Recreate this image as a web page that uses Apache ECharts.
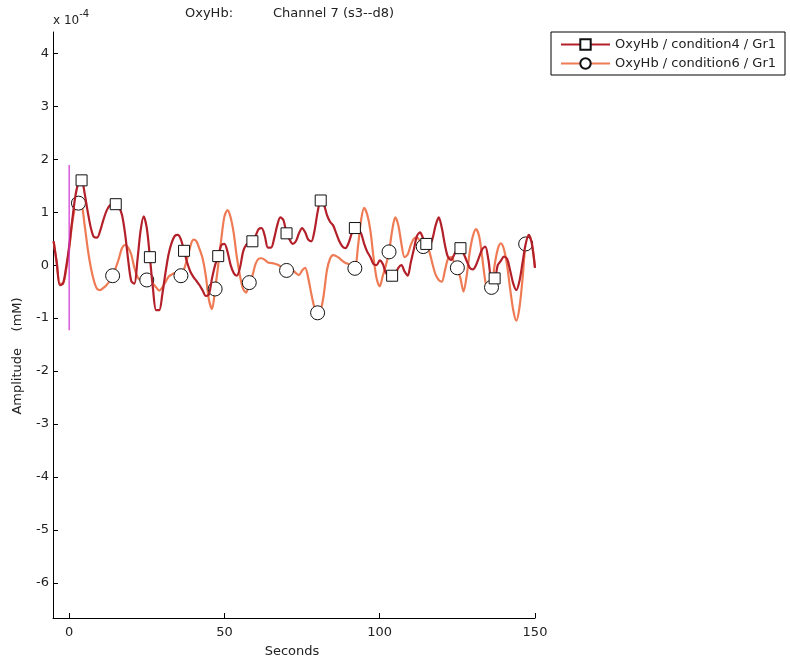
<!DOCTYPE html>
<html>
<head>
<meta charset="utf-8">
<script src="https://cdn.jsdelivr.net/npm/echarts@6/dist/echarts.min.js"></script>
<style>
  html, body { margin: 0; padding: 0; background: #fff; }
  #main { width: 790px; height: 668px; }
</style>
</head>
<body>
<div id="main"></div>
<script>
// sample times: one per second from -5 s to 150 s
var startSec = -5;

// OxyHb / condition4 / Gr1 (x 1e-4 mM)
var cond4 = [
  0.45, 0.05, -0.38, -0.35, -0.05,
  0.35, 0.85, 1.3, 1.55, 1.6, 1.35, 1.0, 0.7, 0.53, 0.52,
  0.65, 0.85, 1.02, 1.12, 1.15, 1.15, 1.1, 0.95, 0.6, 0.1,
  -0.3, -0.35, 0.1, 0.65, 0.92, 0.7, 0.15, -0.45, -0.85, -0.85,
  -0.55, -0.15, 0.2, 0.42, 0.55, 0.57, 0.48, 0.27, 0.05, -0.12,
  -0.22, -0.3, -0.38, -0.48, -0.58, -0.55, -0.25, 0.0, 0.17, 0.38,
  0.4, 0.25, 0.0, -0.15, -0.2, -0.05, 0.25, 0.38, 0.42, 0.45,
  0.55, 0.68, 0.7, 0.55, 0.33, 0.33, 0.5, 0.75, 0.9, 0.85,
  0.6, 0.48, 0.4, 0.45, 0.6, 0.7, 0.62, 0.48, 0.45, 0.65,
  1.0, 1.22, 1.15, 0.95, 0.82, 0.75, 0.6, 0.45, 0.35, 0.32,
  0.42, 0.6, 0.7, 0.68, 0.6, 0.4, 0.25, 0.15, 0.02, 0.0,
  0.09, 0.02, -0.15, -0.2, -0.2, -0.17, -0.05, 0.0, -0.12, -0.2,
  0.05, 0.3, 0.55, 0.62, 0.5, 0.4, 0.38, 0.5, 0.75, 0.9,
  0.7, 0.38, 0.15, 0.1, 0.2, 0.3, 0.32, 0.22, 0.08, -0.05,
  -0.08, 0.0, 0.15, 0.3, 0.35, 0.1, -0.25, -0.25, 0.0, 0.08,
  0.16, 0.12, -0.1, -0.35, -0.47, -0.3, 0.05, 0.4, 0.57, 0.4,
  -0.05
];

// OxyHb / condition6 / Gr1 (x 1e-4 mM)
var cond6 = [
  0.45, 0.05, -0.35, -0.35, -0.1,
  0.3, 0.8, 1.1, 1.17, 1.15, 0.75, 0.3, -0.05, -0.3, -0.45,
  -0.47, -0.43, -0.38, -0.3, -0.2, -0.05, 0.12, 0.32, 0.38, 0.33,
  0.2, -0.05, -0.22, -0.28, -0.27, -0.28, -0.3, -0.35, -0.42, -0.48,
  -0.42, -0.32, -0.22, -0.18, -0.15, -0.18, -0.2, -0.08, 0.12, 0.35,
  0.48, 0.45, 0.3, 0.12, -0.2, -0.65, -0.83, -0.45, 0.0, 0.5,
  0.92, 1.04, 0.9, 0.6, 0.15, -0.2, -0.45, -0.52, -0.33, -0.2,
  0.02, 0.12, 0.13, 0.1, 0.05, 0.04, 0.03, 0.01, -0.02, -0.06,
  -0.1, -0.12, -0.1, -0.15, -0.19, -0.1, -0.05, -0.25, -0.55, -0.8,
  -0.9, -0.85, -0.55, -0.1, 0.12, 0.19, 0.17, 0.13, 0.08, 0.04,
  0.02, -0.05, -0.06, 0.35, 0.85, 1.08, 0.95, 0.65, 0.15, -0.25,
  -0.4, -0.2, 0.0, 0.25, 0.65, 0.9, 0.75, 0.4, 0.15, 0.2,
  0.38, 0.5, 0.52, 0.45, 0.35, 0.35, 0.25, 0.02, -0.18, -0.28,
  -0.31, -0.1, 0.12, 0.15, 0.05, -0.05, -0.25, -0.5, -0.2, 0.25,
  0.55, 0.68, 0.55, 0.15, -0.3, -0.5, -0.42, 0.0, 0.3, 0.41,
  0.3, 0.0, -0.45, -0.85, -1.05, -0.8, -0.25, 0.4, 0.55, 0.4,
  -0.05
];

// seconds at which the markers sit
var marks4 = [4, 15, 26, 37, 48, 59, 70, 81, 92, 104, 115, 126, 137];
var marks6 = [3, 14, 25, 36, 47, 58, 70, 80, 92, 103, 114, 125, 136, 147];

// stimulus onset line
var onsetSec = 0;
var onsetRange = [-1.23, 1.89];

var xTicks = [0, 50, 100, 150];
var yTicks = [-6, -5, -4, -3, -2, -1, 0, 1, 2, 3, 4];

var font = '"DejaVu Sans", Verdana, sans-serif';
var ink = '#222';

function buildData(vals, marks, sym, size) {
  return vals.map(function (v, i) {
    var t = startSec + i;
    if (marks.indexOf(t) >= 0) {
      return { value: [t, v], symbol: sym, symbolSize: size };
    }
    return { value: [t, v], symbol: 'none' };
  });
}

var myChart = echarts.init(document.getElementById('main'));
myChart.setOption({
  animation: false,
  backgroundColor: '#fff',
  textStyle: { fontFamily: font },
  grid: { left: 53, top: 32, width: 482, height: 586 },
  graphic: [
    { type: 'text', left: 185, top: 7,
      style: { text: 'OxyHb:', font: '13px ' + font, fill: ink } },
    { type: 'text', left: 273, top: 7,
      style: { text: 'Channel 7 (s3--d8)', font: '13px ' + font, fill: ink } },
    { type: 'text', left: 53, top: 9,
      style: { text: '{b|x 10}{s|-4}', fill: ink,
        rich: { b: { fontSize: 12, fontFamily: font, verticalAlign: 'bottom', color: ink },
                s: { fontSize: 10, fontFamily: font, verticalAlign: 'top', color: ink, padding: [0, 0, 8, 0] } } } },
    { type: 'text', x: 18, y: 356, rotation: Math.PI / 2,
      style: { text: 'Amplitude    (mM)', font: '13px ' + font, fill: ink,
        align: 'center', verticalAlign: 'middle' } },
    { type: 'text', x: 292, y: 652,
      style: { text: 'Seconds', font: '13px ' + font, fill: ink,
        align: 'center', verticalAlign: 'middle' } }
  ],
  legend: {
    data: ['OxyHb / condition4 / Gr1', 'OxyHb / condition6 / Gr1'],
    orient: 'vertical',
    left: 551,
    top: 32,
    padding: [6, 9, 5, 9],
    itemGap: 6,
    itemWidth: 49,
    itemHeight: 13,
    borderColor: '#000',
    borderWidth: 1,
    borderRadius: 0,
    textStyle: { fontSize: 13, color: ink, fontFamily: font }
  },
  xAxis: {
    type: 'value',
    min: -5.2,
    max: 150,
    axisLine: { onZero: false, lineStyle: { color: '#000', width: 1 } },
    axisTick: { inside: true, length: 5, customValues: xTicks, lineStyle: { color: '#000' } },
    axisLabel: { customValues: xTicks, color: ink, fontSize: 13, margin: 8 },
    splitLine: { show: false }
  },
  yAxis: {
    type: 'value',
    min: -6.66,
    max: 4.4,
    axisLine: { show: true, onZero: false, lineStyle: { color: '#000', width: 1 } },
    axisTick: { show: true, inside: true, length: 5, customValues: yTicks, lineStyle: { color: '#000' } },
    axisLabel: { customValues: yTicks, color: ink, fontSize: 13, margin: 4 },
    splitLine: { show: false }
  },
  series: [
    {
      name: 'OxyHb / condition6 / Gr1',
      type: 'line',
      smooth: 0.3,
      symbol: 'circle',
      symbolSize: 14,
      showAllSymbol: true,
      z: 2,
      lineStyle: { color: '#ef7b55', width: 2.2 },
      itemStyle: { color: '#fff', borderColor: '#111', borderWidth: 1 },
      data: buildData(cond6, marks6, 'circle', 14)
    },
    {
      name: 'OxyHb / condition4 / Gr1',
      type: 'line',
      smooth: 0.3,
      symbol: 'rect',
      symbolSize: 11,
      showAllSymbol: true,
      z: 3,
      lineStyle: { color: '#b3202a', width: 2.2 },
      itemStyle: { color: '#fff', borderColor: '#111', borderWidth: 1 },
      data: buildData(cond4, marks4, 'rect', 11)
    },
    {
      name: 'onset',
      type: 'line',
      symbol: 'none',
      z: 4,
      lineStyle: { color: '#d030d0', width: 1.2 },
      data: [[onsetSec, onsetRange[0]], [onsetSec, onsetRange[1]]]
    }
  ]
});
</script>
</body>
</html>
